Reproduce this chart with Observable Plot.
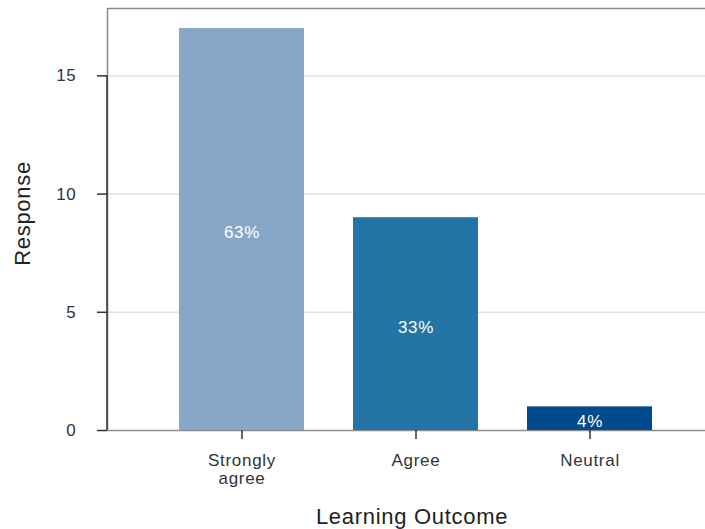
<!DOCTYPE html>
<html>
<head>
<meta charset="utf-8">
<script src="https://cdn.jsdelivr.net/npm/d3@7"></script>
<script src="https://cdn.jsdelivr.net/npm/@observablehq/plot@0.6"></script>
<style>
  html, body { margin: 0; padding: 0; background: #fff; overflow: hidden; }
</style>
</head>
<body>
<div id="chart"></div>
<script>
const categories = ["Strongly agree", "Agree", "Neutral"];
const responses = [17, 9, 1];
const percentLabels = ["63%", "33%", "4%"];
const barColors = ["#87a7c9", "#2474a5", "#004a8d"];
const xTickLabels = ["Strongly\nagree", "Agree", "Neutral"];
const yTicks = [0, 5, 10, 15];
const gridTicks = [5, 10, 15];

const data = categories.map((c, i) => ({category: c, value: responses[i], pct: percentLabels[i], color: barColors[i]}));

const rangeFrame = (index, scales, values, dims) => {
  const {x, y} = scales;
  const bw = x.bandwidth || 0;
  const g = d3.create("svg:g").attr("stroke", "#333").attr("stroke-width", 1.5);
  g.append("line")
    .attr("x1", dims.marginLeft).attr("x2", dims.marginLeft)
    .attr("y1", y(yTicks[0])).attr("y2", y(yTicks[yTicks.length - 1]));
  g.append("line")
    .attr("x1", x(categories[0]) + bw / 2).attr("x2", x(categories[categories.length - 1]) + bw / 2)
    .attr("y1", y(0)).attr("y2", y(0));
  return g.node();
};

const chart = Plot.plot({
  width: 710,
  height: 529,
  marginLeft: 107,
  marginRight: 0,
  marginTop: 8,
  marginBottom: 99,
  style: {fontFamily: "'Liberation Sans', Arial, sans-serif", letterSpacing: "0.7px", background: "#fff", maxWidth: "none"},
  x: {domain: categories, range: [128.5, 701.5], padding: 0.2837, axis: null},
  y: {domain: [0, 17.85], axis: null},
  marks: [
    Plot.ruleY(gridTicks, {stroke: "#e6e2d5", strokeWidth: 1.5}),
    Plot.frame({stroke: "#8c8c8c", strokeWidth: 1.5}),
    Plot.barY(data, {x: "category", y: "value", fill: "color"}),
    Plot.text(data, {x: "category", y: d => d.value / 2, text: "pct", fill: "#fff", fontSize: 17, dy: 3}),
    Plot.axisY(yTicks, {tickSize: 10, tickPadding: 21, fontSize: 17, color: "#333", strokeWidth: 1.5, label: null}),
    Plot.axisX(categories, {tickSize: 9, tickPadding: 14, fontSize: 17, color: "#333", strokeWidth: 1.5, lineHeight: 1.06,
      tickFormat: d => xTickLabels[categories.indexOf(d)], label: null}),
    rangeFrame,
    Plot.text(["Response"], {frameAnchor: "left", textAnchor: "middle", lineAnchor: "middle", dx: -85, dy: -6, rotate: -90, fontSize: 22, fill: "#222", letterSpacing: "1px"}),
    Plot.text(["Learning Outcome"], {frameAnchor: "bottom", textAnchor: "middle", lineAnchor: "middle", dx: 3, dy: 86, fontSize: 22, fill: "#222", letterSpacing: "1px"})
  ]
});
chart.style.maxWidth = "none";
document.getElementById("chart").appendChild(chart);
</script>
</body>
</html>
